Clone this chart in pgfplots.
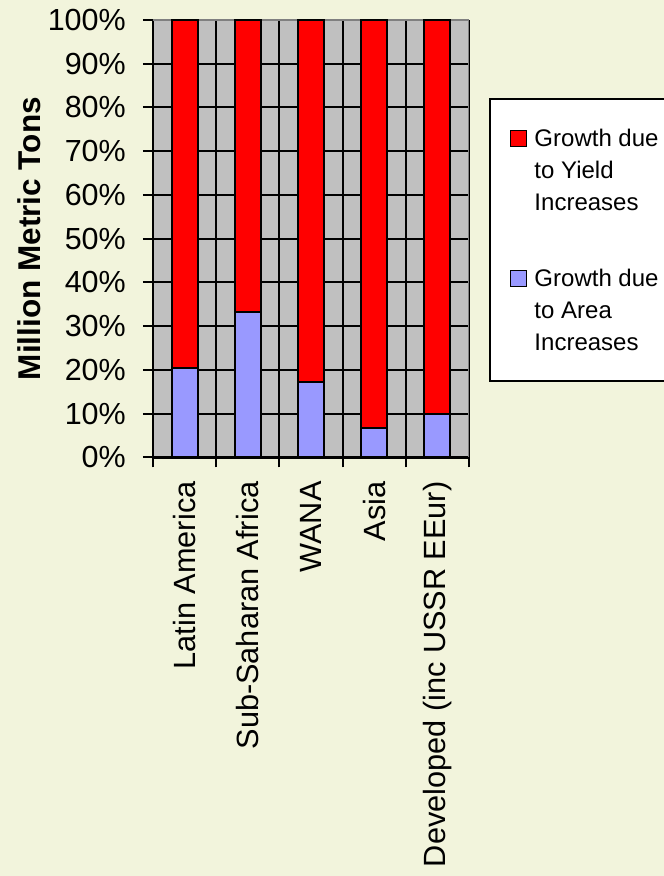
\documentclass[border=0pt]{standalone}
\usepackage{pgfplots}
\pgfplotsset{compat=1.18}
\usepackage{fontspec}
\setmainfont{Liberation Sans}
\definecolor{bgc}{RGB}{242,244,220}
\definecolor{plotgray}{RGB}{192,192,192}
\definecolor{areablue}{RGB}{153,153,255}
\definecolor{yieldred}{RGB}{255,0,0}
\definecolor{frameg}{RGB}{128,128,128}
\pgfplotstableread{
x area yield
0 20.4 79.6
1 33.2 66.8
2 17.3 82.7
3 6.8 93.2
4 9.9 90.1
}\datatab
\begin{document}
\begin{tikzpicture}[x=1pt,y=1pt]
\fill[bgc] (0,0) rectangle (664,876);
\begin{axis}[
  at={(153pt,418.7pt)}, anchor=south west,
  scale only axis, width=316pt, height=437.3pt,
  ybar stacked, bar width=26pt,
  xmin=-0.5, xmax=4.5, ymin=0, ymax=100,
  axis background/.style={fill=plotgray},
  xtick={0,1,2,3,4},
  xticklabels={Latin America,Sub-Saharan Africa,WANA,Asia,Developed (inc USSR EEur)},
  minor xtick={-0.5,0.5,1.5,2.5,3.5,4.5},
  xminorgrids, ymajorgrids,
  ytick={0,10,...,100},
  yticklabels={0\%,10\%,20\%,30\%,40\%,50\%,60\%,70\%,80\%,90\%,100\%},
  tick align=outside, major tick length=10pt, minor tick length=10pt,
  major x tick style={draw=none},
  minor x tick style={draw=black, line width=2pt},
  major y tick style={draw=black, line width=2pt},
  every axis plot/.append style={line width=2pt},
  minor x grid style={black, line width=2pt},
  major y grid style={black, line width=2pt},
  separate axis lines,
  axis x line*=bottom, axis y line*=left,
  axis line style={black, line width=2.5pt, -},
  yticklabel style={anchor=east, inner sep=0pt, font=\fontsize{30.5}{36}\selectfont},
  xticklabel style={rotate=90, anchor=east, inner sep=0pt, font=\fontsize{30.7}{36}\selectfont},
  yticklabel shift=17pt,
  xticklabel shift=14pt,
  ylabel={\bfseries Million Metric Tons},
  ylabel style={at={(axis description cs:-0.354,0.5)}, anchor=south, inner sep=0pt, font=\fontsize{31.5}{36}\selectfont},
  legend style={at={(axis description cs:1.0633,0.8216)}, anchor=north west,
    draw=black, line width=2pt, fill=white,
    inner xsep=20pt, inner ysep=30pt,
    nodes={inner sep=0pt, text depth=},
    cells={anchor=base west},
    column sep=7pt, row sep=58.5pt,
    font=\fontsize{24}{32}\selectfont},
  legend image code/.code={\draw[#1, line width=1.5pt] (0pt,0pt) rectangle (16pt,16pt);},
  reverse legend,
]
\addplot[fill=areablue, draw=black] table[x=x, y=area] {\datatab};
\addlegendentry{\vtop{\baselineskip=32pt\hbox{Growth due}\hbox{to Area}\hbox{Increases}}}
\addplot[fill=yieldred, draw=black] table[x=x, y=yield] {\datatab};
\addlegendentry{\vtop{\baselineskip=32pt\hbox{Growth due}\hbox{to Yield}\hbox{Increases\hspace{40pt}}}}
\draw[frameg, line width=2pt] (rel axis cs:0,1) -- (rel axis cs:1,1) -- (rel axis cs:1,0);
\end{axis}
\pgfresetboundingbox
\path[use as bounding box] (0,0) rectangle (664,876);
\end{tikzpicture}
\end{document}
